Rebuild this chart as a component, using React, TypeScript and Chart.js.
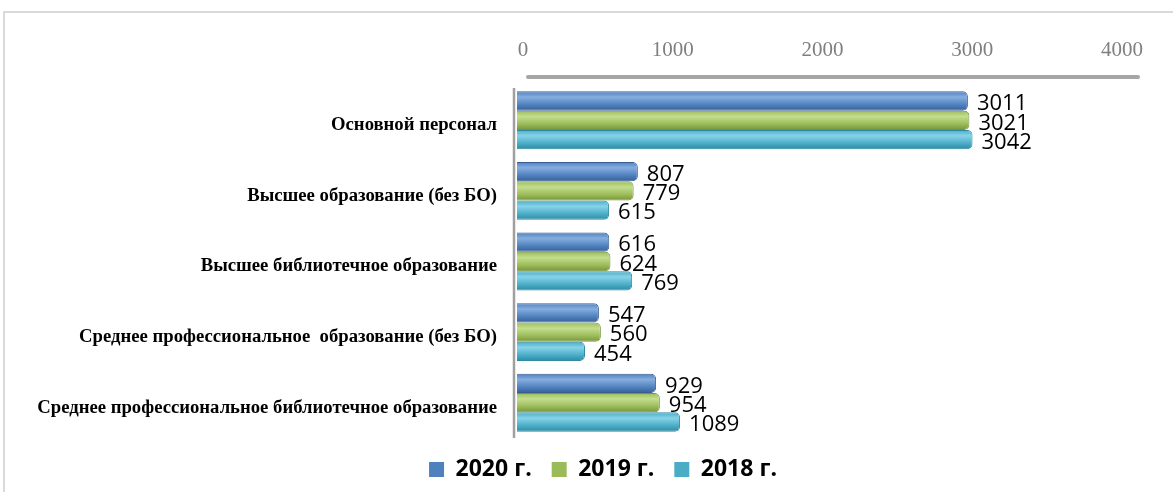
import React, { useEffect, useRef } from 'react';
import { Chart, registerables } from 'chart.js';

Chart.register(...registerables);

const categories = [
  'Основной персонал',
  'Высшее образование (без БО)',
  'Высшее библиотечное образование',
  'Среднее профессиональное  образование (без БО)',
  'Среднее профессиональное библиотечное образование',
];
const seriesNames = ['2020 г.', '2019 г.', '2018 г.'];
const values2020 = [3011, 807, 616, 547, 929];
const values2019 = [3021, 779, 624, 560, 954];
const values2018 = [3042, 615, 769, 454, 1089];
const xMin = 0;
const xMax = 4000;
const xStep = 1000;

const baseColors = ['#4F81BD', '#9BBB59', '#4BACC6'];
const lightColors = ['#86ADE0', '#C4DE8E', '#86D3E8'];
const darkColors = ['#385F95', '#76943A', '#2E8AA3'];
const CAT_PCT = 0.82;

const makeBg = (si: number) => (ctx: any) => {
  const chart = ctx.chart;
  const y = chart.scales && chart.scales.y;
  if (!y || ctx.type !== 'data' || !(y.bottom - y.top > 0)) return baseColors[si];
  const band = (y.bottom - y.top) / categories.length;
  const h = (band * CAT_PCT) / 3;
  const c = y.getPixelForValue(ctx.dataIndex) + (si - 1) * h;
  const g = chart.ctx.createLinearGradient(0, c - h / 2, 0, c + h / 2);
  g.addColorStop(0, baseColors[si]);
  g.addColorStop(0.3, lightColors[si]);
  g.addColorStop(0.7, baseColors[si]);
  g.addColorStop(1, darkColors[si]);
  return g;
};

const framePlugin = {
  id: 'framePlugin',
  afterLayout(chart: any) {
    if (chart.legend) chart.legend.left = 90;
  },
  beforeDraw(chart: any) {
    const { ctx } = chart;
    ctx.save();
    ctx.strokeStyle = '#d9d9d9';
    ctx.lineWidth = 2;
    ctx.beginPath();
    ctx.moveTo(4, chart.height);
    ctx.lineTo(4, 12);
    ctx.lineTo(chart.width, 12);
    ctx.stroke();
    ctx.restore();
  },
  afterDraw(chart: any) {
    const { ctx, chartArea, scales } = chart;
    const x = scales.x;
    ctx.save();
    ctx.strokeStyle = '#a6a6a6';
    ctx.lineCap = 'round';
    ctx.lineWidth = 4;
    ctx.beginPath();
    ctx.moveTo(x.getPixelForValue(xMin) + 11, chartArea.top - 8);
    ctx.lineTo(x.getPixelForValue(xMax) + 22, chartArea.top - 8);
    ctx.stroke();
    ctx.lineWidth = 2.5;
    ctx.strokeStyle = '#a0a0a0';
    ctx.lineCap = 'butt';
    ctx.beginPath();
    ctx.moveTo(chartArea.left - 3, chartArea.top + 3);
    ctx.lineTo(chartArea.left - 3, chartArea.bottom);
    ctx.stroke();
    ctx.restore();
  },
};

const valueLabels = {
  id: 'valueLabels',
  afterDatasetsDraw(chart: any) {
    const { ctx } = chart;
    ctx.save();
    ctx.font = '22px "Open Sans", "Noto Sans", sans-serif';
    ctx.fillStyle = '#000';
    ctx.textAlign = 'left';
    ctx.textBaseline = 'middle';
    chart.data.datasets.forEach((ds: any, di: number) => {
      const meta = chart.getDatasetMeta(di);
      meta.data.forEach((el: any, i: number) => {
        ctx.fillText(String(ds.data[i]), el.x + 9, el.y + 3);
      });
    });
    ctx.restore();
  },
};

export default function App() {
  const ref = useRef<HTMLCanvasElement>(null);
  useEffect(() => {
    if (!ref.current) return;
    const series = [values2020, values2019, values2018];
    const chart = new Chart(ref.current, {
      type: 'bar',
      data: {
        labels: categories,
        datasets: series.map((vals, si) => ({
          label: seriesNames[si],
          data: vals,
          backgroundColor: makeBg(si),
          borderColor: darkColors[si],
          borderWidth: 1,
          borderRadius: { topLeft: 0, bottomLeft: 0, topRight: 5, bottomRight: 5 },
          borderSkipped: 'start',
          categoryPercentage: CAT_PCT,
          barPercentage: 1,
        })),
      },
      options: {
        indexAxis: 'y',
        animation: false,
        responsive: true,
        maintainAspectRatio: false,
        layout: { padding: { left: 0, right: 57, top: 0, bottom: 1 } },
        scales: {
          x: {
            position: 'top',
            min: xMin,
            max: xMax,
            grid: { display: false, drawTicks: false },
            border: { display: false },
            ticks: {
              stepSize: xStep,
              padding: 22,
              labelOffset: 6,
              color: '#7f7f7f',
              font: { family: '"Liberation Serif", "Times New Roman", serif', size: 21 },
              callback: (v: any) => String(v),
            },
            afterFit(scale: any) {
              scale.height = 85;
            },
          },
          y: {
            grid: { display: false, drawTicks: false },
            border: { display: false },
            ticks: {
              padding: 20,
              labelOffset: 5,
              color: '#000',
              font: { family: '"Liberation Serif", "Times New Roman", serif', size: 18.7, weight: 'bold' },
            },
            afterFit(scale: any) {
              scale.width = 517;
            },
          },
        },
        plugins: {
          legend: {
            position: 'bottom',
            labels: {
              boxWidth: 15,
              boxHeight: 15,
              padding: 20,
              color: '#000',
              font: { family: '"Open Sans", "Noto Sans", sans-serif', size: 23, weight: 'bold' },
              generateLabels: (ch: any) =>
                ch.data.datasets.map((ds: any, i: number) => ({
                  text: ds.label,
                  fillStyle: baseColors[i],
                  strokeStyle: baseColors[i],
                  lineWidth: 0,
                  hidden: false,
                  datasetIndex: i,
                  fontColor: '#000',
                })),
            },
          },
          tooltip: { enabled: false },
        },
      },
      plugins: [framePlugin, valueLabels],
    } as any);
    return () => chart.destroy();
  }, []);
  return (
    <div style={{ position: 'fixed', left: 0, top: 0, width: 1173, height: 492, background: '#fff' }}>
      <canvas ref={ref} />
    </div>
  );
}
